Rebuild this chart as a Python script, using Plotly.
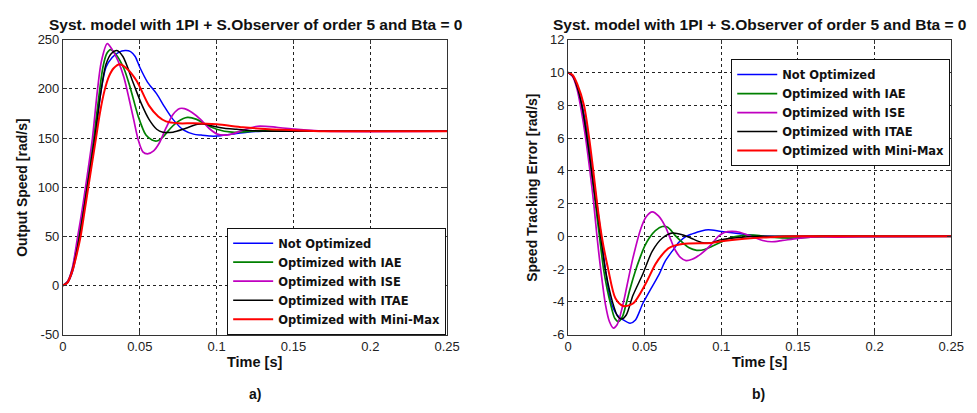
import plotly.graph_objects as go

# ---------------- data: output speed [rad/s] ----------------
T_SPD_NOOPT = [0, 0.003, 0.006, 0.011, 0.0162, 0.021, 0.0245, 0.028, 0.032, 0.036, 0.0405, 0.044, 0.047,
               0.05, 0.055, 0.061, 0.066, 0.0716, 0.0786, 0.085, 0.09, 0.096, 0.1, 0.11, 0.12, 0.13, 0.25]
V_SPD_NOOPT = [0, 3, 13, 50, 100, 150, 195, 222, 232, 237, 239, 238, 233,
               222, 207, 195, 182, 169, 158, 154, 153, 152, 152, 154, 156, 157, 157]

T_SPD_IAE = [0, 0.003, 0.006, 0.0102, 0.0153, 0.02, 0.0232, 0.026, 0.0285, 0.031, 0.034, 0.0396, 0.044,
             0.049, 0.054, 0.058, 0.061, 0.065, 0.07, 0.075, 0.081, 0.087, 0.094, 0.1, 0.11, 0.12, 0.13,
             0.15, 0.25]
V_SPD_IAE = [0, 4, 16, 50, 100, 150, 190, 222, 236, 240, 236, 221, 200,
             172, 153, 148, 147, 151, 160, 167, 171, 169, 163, 159, 156, 156.5, 157.5,
             157, 157]

T_SPD_ISE = [0, 0.003, 0.006, 0.0096, 0.012, 0.0147, 0.017, 0.0192, 0.0224, 0.025, 0.0288, 0.032, 0.036,
             0.0396, 0.043, 0.046, 0.049, 0.052, 0.055, 0.059, 0.0627, 0.067, 0.0716, 0.076, 0.079, 0.084,
             0.0895, 0.095, 0.1004, 0.106, 0.112, 0.117, 0.1266, 0.139, 0.151, 0.17, 0.25]
V_SPD_ISE = [0, 4, 17, 50, 72, 100, 125, 150, 198, 228, 246, 240, 228,
             212, 190, 169, 148, 136, 134, 137, 145, 160, 174, 180, 180, 176,
             169, 160, 154, 153, 155, 158, 162, 161, 159, 157, 157]

T_SPD_ITAE = [0, 0.003, 0.006, 0.0108, 0.0158, 0.0207, 0.0245, 0.028, 0.0315, 0.035, 0.039, 0.046, 0.051,
              0.056, 0.061, 0.065, 0.0716, 0.08, 0.0876, 0.093, 0.098, 0.105, 0.113, 0.125, 0.14, 0.25]
V_SPD_ITAE = [0, 3, 15, 50, 100, 150, 195, 225, 236, 239, 233, 205, 185,
              169, 159, 156, 156, 160, 164, 164, 162, 160, 159, 157.5, 157, 157]

T_SPD_MINMAX = [0, 0.003, 0.006, 0.009, 0.0115, 0.014, 0.0165, 0.019, 0.0215, 0.024, 0.027, 0.03, 0.033,
                0.037, 0.042, 0.048, 0.056, 0.062, 0.067, 0.075, 0.085, 0.1, 0.117, 0.134, 0.15, 0.17, 0.25]
V_SPD_MINMAX = [0, 3, 14, 32, 50, 75, 100, 125, 150, 175, 198, 213, 221,
                225, 220, 208, 183, 172, 167, 165, 165, 164, 161, 159, 158, 157, 157]

# ---------------- data: speed tracking error [rad/s] ----------------
T_ERR_NOOPT = [0, 0.003, 0.006, 0.009, 0.011, 0.0135, 0.0162, 0.019, 0.022, 0.0245, 0.028, 0.032, 0.036,
               0.0405, 0.044, 0.0488, 0.055, 0.0595, 0.0635, 0.068, 0.0725, 0.077, 0.081, 0.087, 0.0915,
               0.1, 0.111, 0.121, 0.13, 0.25]
V_ERR_NOOPT = [10, 9.8, 9.2, 8.1, 7.2, 5.8, 3.9, 1.9, -0.2, -2.1, -4.0, -4.8, -5.1,
               -5.3, -5.1, -4.1, -3.05, -2.3, -1.5, -0.9, -0.35, 0.0, 0.15, 0.33, 0.4,
               0.3, 0.18, 0.06, 0, 0]

T_ERR_IAE = [0, 0.003, 0.006, 0.009, 0.012, 0.0153, 0.018, 0.02, 0.0232, 0.0255, 0.0277, 0.0305, 0.0329,
             0.0355, 0.038, 0.0405, 0.044, 0.047, 0.05, 0.053, 0.057, 0.0616, 0.065, 0.07, 0.075, 0.079,
             0.084, 0.089, 0.094, 0.1, 0.105, 0.11, 0.121, 0.132, 0.149, 0.16, 0.17, 0.25]
V_ERR_IAE = [10, 9.8, 9.1, 7.9, 6.3, 3.9, 1.9, 0.4, -2.0, -3.2, -4.1, -5.0, -5.2,
             -4.9, -4.1, -3.2, -2.1, -1.3, -0.6, -0.1, 0.35, 0.6, 0.55, 0.05, -0.4, -0.7,
             -0.85, -0.8, -0.6, -0.35, -0.12, 0.0, 0.07, -0.05, -0.1, -0.03, 0, 0]

T_ERR_ISE = [0, 0.003, 0.006, 0.009, 0.0115, 0.0143, 0.0168, 0.0187, 0.0213, 0.0245, 0.027, 0.0296, 0.032,
             0.0355, 0.0385, 0.0424, 0.0476, 0.051, 0.055, 0.059, 0.0635, 0.067, 0.07, 0.0735, 0.077,
             0.081, 0.087, 0.0934, 0.098, 0.102, 0.107, 0.112, 0.121, 0.127, 0.133, 0.14, 0.15, 0.165,
             0.175, 0.19, 0.25]
V_ERR_ISE = [10, 9.75, 8.95, 7.5, 6.0, 4.0, 2.0, 0.2, -2.0, -4.2, -5.2, -5.6, -5.4,
             -4.3, -3.0, -1.3, 0.5, 1.2, 1.5, 1.25, 0.6, -0.2, -0.85, -1.3, -1.48,
             -1.4, -1.05, -0.5, 0.0, 0.24, 0.3, 0.25, -0.05, -0.25, -0.33, -0.25, -0.12, -0.02,
             -0.05, -0.02, 0]

T_ERR_ITAE = [0, 0.003, 0.006, 0.009, 0.0108, 0.013, 0.0158, 0.018, 0.0207, 0.0245, 0.029, 0.0325, 0.035,
              0.038, 0.0424, 0.0488, 0.055, 0.0616, 0.068, 0.0745, 0.08, 0.087, 0.093, 0.1, 0.11, 0.125, 0.25]
V_ERR_ITAE = [10, 9.8, 9.1, 8.0, 7.0, 5.6, 3.7, 2.2, 0.4, -2.1, -4.0, -4.9, -5.05,
              -4.8, -3.6, -2.3, -0.9, -0.1, 0.2, 0.1, -0.1, -0.37, -0.4, -0.2, -0.08, 0, 0]

T_ERR_MINMAX = [0, 0.003, 0.006, 0.0104, 0.0138, 0.0165, 0.019, 0.022, 0.0262, 0.031, 0.036, 0.0424,
                0.0506, 0.057, 0.062, 0.066, 0.0745, 0.0935, 0.1, 0.115, 0.132, 0.15, 0.25]
V_ERR_MINMAX = [10, 9.85, 9.3, 8.0, 6.0, 4.0, 2.0, 0.0, -2.0, -3.8, -4.25, -4.1,
                -2.9, -1.7, -1.05, -0.7, -0.47, -0.4, -0.3, -0.15, -0.05, 0, 0]

SERIES_NAMES = ["Not Optimized", "Optimized with IAE", "Optimized with ISE",
                "Optimized with ITAE", "Optimized with Mini-Max"]
SERIES_COLORS = ["#0000FF", "#008000", "#C000C0", "#000000", "#FF0000"]
SERIES_WIDTHS = [1.5, 1.7, 1.7, 1.5, 2.0]

SPEED_SERIES = [(T_SPD_NOOPT, V_SPD_NOOPT), (T_SPD_IAE, V_SPD_IAE), (T_SPD_ISE, V_SPD_ISE),
                (T_SPD_ITAE, V_SPD_ITAE), (T_SPD_MINMAX, V_SPD_MINMAX)]
ERROR_SERIES = [(T_ERR_NOOPT, V_ERR_NOOPT), (T_ERR_IAE, V_ERR_IAE), (T_ERR_ISE, V_ERR_ISE),
                (T_ERR_ITAE, V_ERR_ITAE), (T_ERR_MINMAX, V_ERR_MINMAX)]

X_TICKS = [0, 0.05, 0.1, 0.15, 0.2, 0.25]
X_TICK_TEXT = ["0", "0.05", "0.1", "0.15", "0.2", "0.25"]
SPEED_TICKS = [-50, 0, 50, 100, 150, 200, 250]
SPEED_TICK_TEXT = ["-50", "0", "50", "100", "150", "200", "250"]
ERROR_TICKS = [-6, -4, -2, 0, 2, 4, 6, 8, 10, 12]
ERROR_TICK_TEXT = ["-6", "-4", "-2", "0", "2", "4", "6", "8", "10", "12"]

TITLE = "Syst. model with 1PI + S.Observer of order 5 and Bta = 0"

FONT = "Liberation Sans, Arial, sans-serif"
LEGEND_FONT = "DejaVu Sans, sans-serif"
W, H = 977, 413

fig = go.Figure()

for (t, v), name, col, lw in zip(SPEED_SERIES, SERIES_NAMES, SERIES_COLORS, SERIES_WIDTHS):
    fig.add_trace(go.Scatter(x=t, y=v, mode="lines", name=name, xaxis="x", yaxis="y",
                             line=dict(color=col, width=lw, shape="spline", smoothing=0.8),
                             legend="legend"))

for (t, v), name, col, lw in zip(ERROR_SERIES, SERIES_NAMES, SERIES_COLORS, SERIES_WIDTHS):
    fig.add_trace(go.Scatter(x=t, y=v, mode="lines", name=name, xaxis="x2", yaxis="y2",
                             line=dict(color=col, width=lw, shape="spline", smoothing=0.8),
                             legend="legend2"))

# plot-area geometry in pixels
L1, R1 = 60, 451
L2, R2 = 574, 964
TOP, BOT = 34, 340


def px(xp):
    return xp / W


def py(yp):
    return 1 - yp / H


axis_common = dict(
    showline=True, linecolor="#333333", linewidth=1, mirror="ticks",
    ticks="inside", ticklen=4, tickcolor="#333333",
    showgrid=True, gridcolor="#222222", gridwidth=1, griddash="3px,3px",
    zeroline=False,
    tickfont=dict(family=FONT, size=13, color="#222222"),
)

legend_common = dict(
    xanchor="right", yanchor="top",
    bgcolor="white", bordercolor="#111111", borderwidth=1,
    font=dict(family=LEGEND_FONT, size=11.5, color="#111111", weight="bold"),
    tracegroupgap=0, itemwidth=40,
)

fig.update_layout(
    width=W, height=H,
    margin=dict(l=0, r=0, t=0, b=0),
    paper_bgcolor="white", plot_bgcolor="white",
    font=dict(family=FONT, color="#111111"),
    xaxis=dict(domain=[px(L1), px(R1)], range=[0, 0.25], anchor="y",
               tickvals=X_TICKS, ticktext=X_TICK_TEXT, **axis_common),
    yaxis=dict(domain=[py(BOT), py(TOP)], range=[-50, 250], anchor="x",
               tickvals=SPEED_TICKS, ticktext=SPEED_TICK_TEXT, **axis_common),
    xaxis2=dict(domain=[px(L2), px(R2)], range=[0, 0.25], anchor="y2",
                tickvals=X_TICKS, ticktext=X_TICK_TEXT, **axis_common),
    yaxis2=dict(domain=[py(BOT), py(TOP)], range=[-6, 12], anchor="x2",
                tickvals=ERROR_TICKS, ticktext=ERROR_TICK_TEXT, **axis_common),
    legend=dict(x=px(450), y=py(229), **legend_common),
    legend2=dict(x=px(963), y=py(54), **legend_common),
    showlegend=True,
)

annotations = [
    # titles
    dict(text="<b>" + TITLE + "</b>", x=px((L1 + R1) / 2), y=py(18), font=dict(size=15.5)),
    dict(text="<b>" + TITLE + "</b>", x=px((L2 + R2) / 2), y=py(18), font=dict(size=15.5)),
    # x-axis titles
    dict(text="<b>Time [s]</b>", x=px((L1 + R1) / 2), y=py(368), font=dict(size=14.5)),
    dict(text="<b>Time [s]</b>", x=px((L2 + R2) / 2), y=py(368), font=dict(size=14.5)),
    # y-axis titles
    dict(text="<b>Output Speed [rad/s]</b>", x=px(18), y=py(188),
         textangle=-90, font=dict(size=14)),
    dict(text="<b>Speed Tracking Error [rad/s]</b>", x=px(538), y=py(188),
         textangle=-90, font=dict(size=14)),
    # panel labels
    dict(text="<b>a)</b>", x=px(255), y=py(402), font=dict(size=14)),
    dict(text="<b>b)</b>", x=px(768), y=py(402), font=dict(size=14)),
]
for a in annotations:
    a.update(xref="paper", yref="paper", showarrow=False, xanchor="center", yanchor="middle")
    a["font"].update(family=FONT, color="#111111")
fig.update_layout(annotations=annotations)

fig.write_html("out.html")
